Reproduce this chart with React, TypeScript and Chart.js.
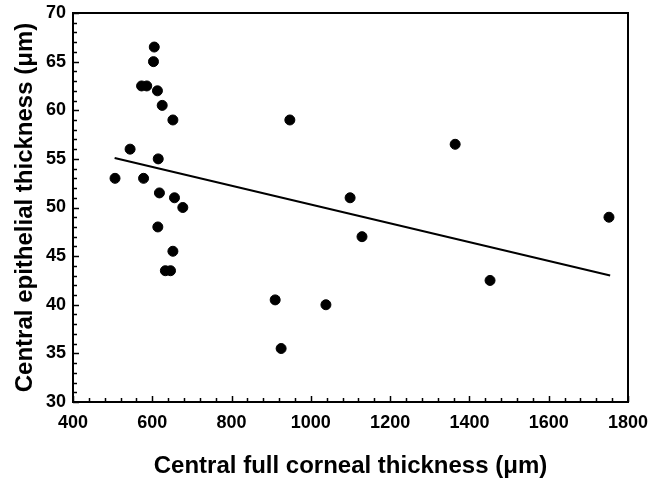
import React, { useEffect, useRef } from "react";
import { Chart, registerables } from "chart.js";

Chart.register(...registerables);

// Central full corneal thickness (µm)
const cornealThickness = [
  605, 603, 573, 586, 613, 625, 652, 544, 615, 506, 578, 618, 656, 677, 614,
  652, 633, 646, 910, 925, 947, 1038, 1099, 1129, 1364, 1452, 1752,
];
// Central epithelial thickness (µm)
const epithelialThickness = [
  66.5, 65.0, 62.5, 62.5, 62.0, 60.5, 59.0, 56.0, 55.0, 53.0, 53.0, 51.5, 51.0,
  50.0, 48.0, 45.5, 43.5, 43.5, 40.5, 35.5, 59.0, 40.0, 51.0, 47.0, 56.5, 42.5,
  49.0,
];
// Regression line end points
const fitX = [505, 1755];
const fitY = [55.1, 43.0];

const X_MIN = 400;
const X_MAX = 1800;
const X_STEP = 200;
const X_MINOR = 40;
const Y_MIN = 30;
const Y_MAX = 70;
const Y_STEP = 5;
const Y_MINOR = 1;

const xTitle = "Central full corneal thickness (\u03BCm)";
const yTitle = "Central epithelial thickness (\u03BCm)";

const FONT = "'Liberation Sans', Arial, Helvetica, sans-serif";

const framePlugin = {
  id: "frameTicks",
  beforeDatasetsDraw(chart: any) {
    const { ctx, chartArea } = chart;
    const { left, right, top, bottom } = chartArea;
    const xs = chart.scales.x;
    const ys = chart.scales.y;
    ctx.save();
    ctx.strokeStyle = "#000";
    ctx.lineWidth = 1.5;
    for (let v = X_MIN; v <= X_MAX + 0.001; v += X_MINOR) {
      const px = Math.round(xs.getPixelForValue(v)) + 0.5;
      const major = Math.abs((v - X_MIN) % X_STEP) < 0.001;
      const len = major ? 6 : 4;
      ctx.beginPath();
      ctx.moveTo(px, bottom);
      ctx.lineTo(px, bottom - len);
      ctx.stroke();
    }
    for (let v = Y_MIN; v <= Y_MAX + 0.001; v += Y_MINOR) {
      const py = Math.round(ys.getPixelForValue(v)) + 0.5;
      const major = Math.abs((v - Y_MIN) % Y_STEP) < 0.001;
      const len = major ? 6 : 4;
      ctx.beginPath();
      ctx.moveTo(left, py);
      ctx.lineTo(left + len, py);
      ctx.stroke();
    }
    ctx.lineWidth = 2;
    ctx.strokeRect(left, top, right - left, bottom - top);
    ctx.restore();
  },
};

export default function App() {
  const ref = useRef<HTMLCanvasElement | null>(null);

  useEffect(() => {
    if (!ref.current) return;
    const points = cornealThickness.map((x, i) => ({ x, y: epithelialThickness[i] }));
    const fit = fitX.map((x, i) => ({ x, y: fitY[i] }));
    const chart = new Chart(ref.current, {
      type: "scatter",
      data: {
        datasets: [
          {
            type: "line",
            data: fit,
            borderColor: "#000",
            borderWidth: 2,
            pointRadius: 0,
            showLine: true,
            fill: false,
          } as any,
          {
            type: "scatter",
            data: points,
            backgroundColor: "#000",
            borderColor: "#000",
            pointRadius: 5,
            pointHoverRadius: 5,
          },
        ],
      },
      options: {
        responsive: false,
        animation: false,
        layout: { padding: { top: 13, right: 26, left: 0, bottom: 0 } },
        plugins: {
          legend: { display: false },
          tooltip: { enabled: false },
        },
        scales: {
          x: {
            type: "linear",
            min: X_MIN,
            max: X_MAX,
            grid: { display: false, drawTicks: false },
            border: { display: false },
            ticks: {
              stepSize: X_STEP,
              color: "#000",
              padding: 10,
              font: { family: FONT, size: 18, weight: "bold" },
              callback: (v: any) => String(v),
            },
            title: {
              display: true,
              text: xTitle,
              color: "#000",
              font: { family: FONT, size: 24, weight: "bold", lineHeight: 1 },
              padding: { top: 0, bottom: 5 },
            },
            afterFit: (s: any) => {
              s.height = 81;
              s.paddingLeft = 0;
              s.paddingRight = 0;
            },
          },
          y: {
            type: "linear",
            min: Y_MIN,
            max: Y_MAX,
            grid: { display: false, drawTicks: false },
            border: { display: false },
            ticks: {
              stepSize: Y_STEP,
              color: "#000",
              padding: 7,
              font: { family: FONT, size: 18, weight: "bold" },
              callback: (v: any) => String(v),
            },
            title: {
              display: true,
              text: yTitle,
              color: "#000",
              font: { family: FONT, size: 24, weight: "bold", lineHeight: 1 },
              padding: { top: 13, bottom: 0 },
            },
            afterFit: (s: any) => {
              s.width = 73;
              s.paddingTop = 0;
              s.paddingBottom = 0;
            },
          },
        },
      },
      plugins: [framePlugin],
    });
    return () => chart.destroy();
  }, []);

  return (
    <div style={{ position: "absolute", left: 0, top: 0, width: 654, height: 483, background: "#fff" }}>
      <canvas ref={ref} width={654} height={483} style={{ display: "block" }} />
    </div>
  );
}
